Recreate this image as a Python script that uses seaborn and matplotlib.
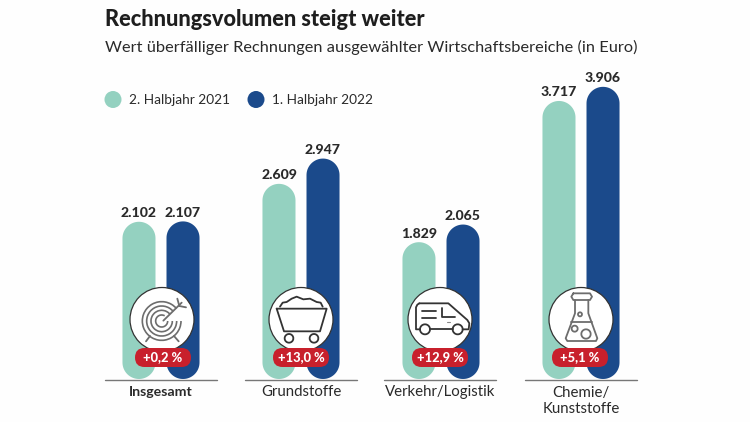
import numpy as np
import pandas as pd
import seaborn as sns
import matplotlib
matplotlib.use("Agg")
import matplotlib.pyplot as plt
from matplotlib.patches import FancyBboxPatch, Circle, Arc, Polygon
from matplotlib.transforms import IdentityTransform

categories = ["Insgesamt", "Grundstoffe", "Verkehr/Logistik", "Chemie/\nKunststoffe"]
series_names = ["2. Halbjahr 2021", "1. Halbjahr 2022"]
values_2021 = [2102, 2609, 1829, 3717]
values_2022 = [2107, 2947, 2065, 3906]
changes = ["+0,2 %", "+13,0 %", "+12,9 %", "+5,1 %"]
title = "Rechnungsvolumen steigt weiter"
subtitle = "Wert überfälliger Rechnungen ausgewählter Wirtschaftsbereiche (in Euro)"
colors = ["#94d1c0", "#1b4a8b"]
RED = "#c8202c"
INK = "#2a2a2a"
LINE = "#333333"
FONT = "Lato"

W, H = 750, 422
df = pd.DataFrame({
    "cat": categories * 2,
    "series": [series_names[0]] * 4 + [series_names[1]] * 4,
    "value": values_2021 + values_2022,
})

sns.set_theme(style="white")
plt.rcParams["font.family"] = [FONT, "DejaVu Sans"]
fig = plt.figure(figsize=(W / 100, H / 100), dpi=100, facecolor="#fefefe")

ax = fig.add_axes([91 / W, (H - 379) / H, 560 / W, 379 / H], facecolor="none")
sns.barplot(data=df, x="cat", y="value", hue="series", hue_order=series_names,
            palette=colors, width=0.629, gap=0.25, saturation=1, legend=False,
            errorbar=None, ax=ax)
ax.set_xlim(-0.5, 3.5)
ax.set_ylim(0, 379 / 0.0748)
ax.axis("off")
fig.canvas.draw()

def capsule(x0, y0, x1, y1):
    r = (x1 - x0) / 2
    t = np.linspace(0, np.pi, 40)
    top = np.column_stack([x0 + r + r * np.cos(t), y1 - r + r * np.sin(t)])
    bot = np.column_stack([x0 + r - r * np.cos(t), y0 + r - r * np.sin(t)])
    return np.vstack([top, bot])

for b in list(ax.patches):
    x0, y0 = ax.transData.transform((b.get_x(), 0))
    x1, y1 = ax.transData.transform((b.get_x() + b.get_width(), b.get_height()))
    ax.add_artist(Polygon(capsule(x0, y0, x1, y1), closed=True, fc=b.get_facecolor(), ec="none",
                          transform=IdentityTransform(), zorder=2))
    b.set_visible(False)
    ax.text(b.get_x() + b.get_width() / 2, b.get_height() + 35,
            f"{int(b.get_height()):,}".replace(",", "."),
            ha="center", va="bottom", fontsize=10.1, fontweight="black", color=INK, zorder=5)

ov = fig.add_axes([0, 0, 1, 1], facecolor="none")
ov.set_xlim(0, W)
ov.set_ylim(H, 0)
ov.axis("off")

ov.text(105, 20, title, fontsize=15.7, fontweight="black", color="#1e1e1e", va="center", ha="left")
ov.text(105, 47, subtitle, fontsize=11.8, color=INK, va="center", ha="left")

for cx, lx, name, col in [(113, 129, series_names[0], colors[0]), (256, 272, series_names[1], colors[1])]:
    ov.add_patch(Circle((cx, 99.5), 8.5, fc=col, ec="none"))
    ov.text(lx, 100, name, fontsize=9.8, color=INK, va="center", ha="left")

centers = [161, 301, 440, 581]
for i, (c, cat, ch) in enumerate(zip(centers, categories, changes)):
    ov.plot([c - 56, c + 56], [380, 380], color="#777777", lw=1.0, zorder=3)
    ov.text(c, 392 if "\n" not in cat else 401, cat, ha="center", va="center",
            fontsize=10.2 if i == 0 else 10.8,
            fontweight="bold" if i == 0 else "normal", color=INK, linespacing=1.25)
    ov.add_patch(Circle((c + (1 if i == 0 else 0), 319.5), 32, fc="white", ec=LINE, lw=0.9, zorder=4))
    px = c + (2 if i == 0 else 0) - (1 if i == 3 else 0)
    ov.add_patch(FancyBboxPatch((px - 28, 348), 56, 19,
                                boxstyle="round,pad=0,rounding_size=9.5", fc=RED, ec="none", zorder=6))
    ov.text(px, 357.5, ch, ha="center", va="center", fontsize=9.3,
            fontweight="black", color="white", zorder=7)

def stroke(xs, ys, ox, col=LINE, lw=1.3):
    ov.plot([ox + x / 3 for x in xs], [270 + y / 3 for y in ys], color=col, lw=lw,
            solid_capstyle="round", solid_joinstyle="round", zorder=5)

def ring(zx, zy, zr, ox, col=LINE, lw=1.3, t1=0, t2=360):
    ov.add_patch(Arc((ox + zx / 3, 270 + zy / 3), 2 * zr / 3, 2 * zr / 3, theta1=t1, theta2=t2,
                     color=col, lw=lw, zorder=5))

# target icon
G = "#6d6d6d"
for zr in (58, 45, 32):
    ring(185, 153, zr, 100, G, 1.2, t1=0, t2=320)
ring(185, 153, 18, 100, G, 1.2, t1=0, t2=300)
stroke([190, 245], [152, 98], 100, G)
stroke([232, 238], [86, 108], 100, G)
stroke([238, 258], [108, 112], 100, G)
stroke([150, 138], [198, 214], 100, G)
stroke([222, 236], [198, 214], 100, G)

# cart icon
stroke([530, 680, 660, 552, 530], [116, 116, 184, 184, 116], 100)
stroke([540, 548, 560, 575, 590, 610, 630, 650, 662, 668],
       [110, 98, 96, 86, 80, 88, 86, 96, 98, 110], 100)
ring(567, 205, 13, 100)
ring(642, 205, 13, 100)

# van icon
stroke([120, 108, 108, 112, 118], [178, 178, 112, 104, 100], 380)
stroke([118, 205, 262, 268, 266, 248], [100, 100, 150, 160, 178, 178], 380)
stroke([150, 218], [178, 178], 380)
stroke([125, 167], [122, 122], 380)
stroke([125, 167], [143, 143], 380)
stroke([187, 187, 226], [114, 140, 140], 380)
stroke([200, 210], [156, 156], 380, "#888888", 0.8)
ring(135, 178, 15, 380)
ring(233, 178, 15, 380)

# flask icon
stroke([580, 630, 636, 630, 580, 574, 580], [70, 70, 80, 90, 90, 80, 70], 380, G)
stroke([585, 585, 557, 562, 648, 652, 625, 625], [90, 130, 205, 213, 213, 205, 130, 90], 380, G)
stroke([574, 636], [155, 155], 380, G)
ring(600, 133, 6, 380, G)
ring(584, 176, 9, 380, G)
ring(618, 192, 14, 380, G)

fig.savefig("out.png", dpi=100, facecolor=fig.get_facecolor())
